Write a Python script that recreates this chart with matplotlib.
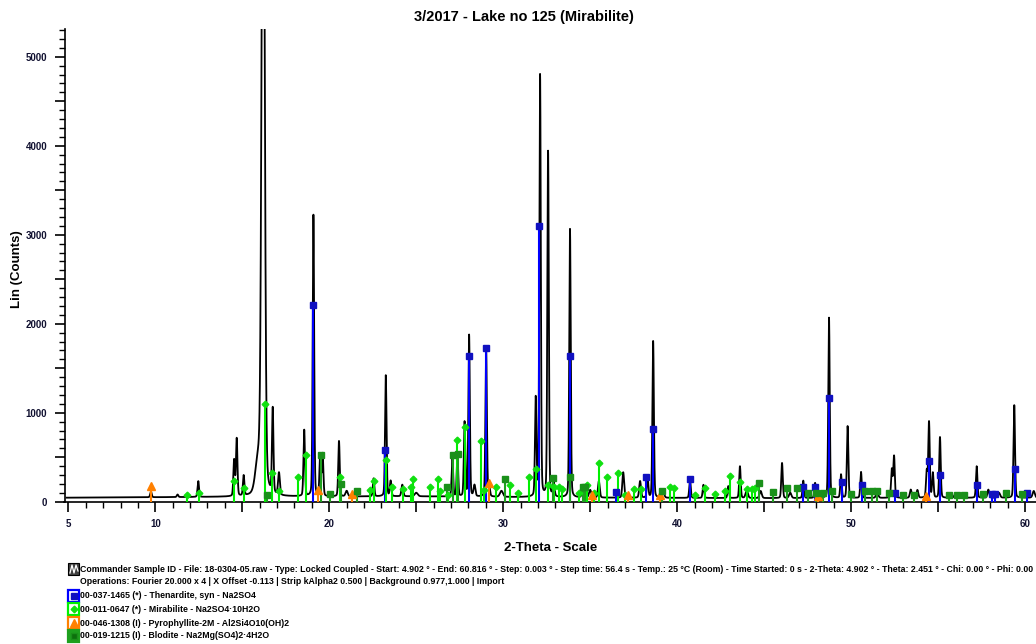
import numpy as np
import matplotlib
matplotlib.use("Agg")
import matplotlib.pyplot as plt
from matplotlib import font_manager
from matplotlib.patches import Rectangle
from matplotlib.lines import Line2D
from matplotlib.ticker import MultipleLocator, FixedLocator

# ---------------- data ----------------
TITLE = "3/2017 - Lake no 125 (Mirabilite)"
X_LABEL = "2-Theta - Scale"
Y_LABEL = "Lin (Counts)"

# measured pattern: peak positions (2-theta), apex counts, fwhm (deg)
peak_pos = [9.75, 11.28, 12.47, 14.53, 14.68, 15.08, 15.9, 16.2, 16.75, 17.11,
            18.56, 19.09, 19.48, 19.62, 20.56, 21.0, 22.55, 23.25, 23.53, 24.2,
            25.0, 27.08, 27.37, 27.78, 28.04, 28.35, 29.02, 29.2, 29.9, 31.87,
            32.12, 32.58, 32.9, 33.84, 34.6, 35.0, 35.5, 36.9, 37.87, 38.3,
            38.62, 39.2, 40.74, 41.51, 42.94, 43.61, 44.0, 44.8, 46.03, 46.5,
            47.25, 47.93, 48.73, 49.42, 49.8, 50.57, 51.5, 52.34, 52.47, 53.43,
            53.81, 54.35, 54.48, 54.7, 55.11, 56.0, 57.22, 57.89, 58.5, 59.38,
            60.5]
peak_cts = [115, 80, 230, 460, 700, 280, 400, 9000, 1005, 305,
            800, 3220, 520, 530, 680, 120, 260, 1420, 230, 190,
            100, 495, 520, 890, 1870, 180, 1720, 150, 120, 1150,
            4790, 3930, 200, 3063, 150, 130, 230, 330, 230, 280,
            1805, 100, 250, 190, 175, 398, 130, 120, 435, 100,
            236, 210, 2068, 304, 848, 334, 100, 360, 510, 135,
            130, 340, 893, 320, 725, 90, 398, 135, 100, 1085,
            120]
peak_fwhm = [0.10, 0.10, 0.10, 0.10, 0.10, 0.10, 0.35, 0.20, 0.10, 0.12,
             0.10, 0.10, 0.10, 0.10, 0.10, 0.15, 0.10, 0.10, 0.10, 0.12,
             0.20, 0.10, 0.10, 0.10, 0.10, 0.12, 0.10, 0.10, 0.20, 0.10,
             0.10, 0.10, 0.12, 0.10, 0.15, 0.15, 0.12, 0.12, 0.12, 0.10,
             0.10, 0.15, 0.10, 0.10, 0.10, 0.10, 0.15, 0.15, 0.10, 0.15,
             0.10, 0.10, 0.10, 0.10, 0.10, 0.10, 0.15, 0.10, 0.10, 0.12,
             0.12, 0.10, 0.10, 0.10, 0.10, 0.15, 0.10, 0.12, 0.15, 0.10,
             0.15]
base_pos = [4.902, 15.0, 25.0, 35.0, 45.0, 60.816]
base_cts = [45, 55, 60, 45, 40, 45]

# reference patterns (stick position, stick height)
thenardite_pos = [19.07, 23.21, 28.04, 29.01, 32.08, 33.84, 36.5, 38.2, 38.62,
                  40.74, 47.25, 47.93, 48.75, 49.45, 50.6, 52.5, 54.5, 55.13,
                  57.25, 58.1, 58.3, 59.4, 60.1]
thenardite_cts = [2210, 578, 1640, 1730, 3100, 1640, 110, 278, 822,
                  255, 165, 166, 1160, 218, 184, 100, 462, 304,
                  184, 90, 90, 368, 95]

mirabilite_pos = [11.8, 12.5, 14.5, 15.1, 16.3, 16.71, 17.1, 18.19, 18.67, 20.6,
                  22.35, 22.55, 23.25, 23.6, 24.25, 24.7, 24.83, 25.8, 26.23, 26.35,
                  26.85, 27.37, 27.82, 28.73, 28.9, 29.57, 30.39, 30.85, 31.46, 31.9,
                  32.55, 32.9, 33.2, 33.4, 34.35, 34.84, 35.2, 35.53, 35.99, 36.6,
                  37.0, 37.5, 37.9, 39.59, 39.8, 41.0, 41.6, 42.2, 42.75, 43.04,
                  43.62, 44.0, 44.3, 44.45]
mirabilite_cts = [80, 100, 235, 155, 1100, 325, 115, 275, 530, 280,
                  127, 230, 473, 160, 145, 170, 250, 160, 250, 125,
                  80, 690, 840, 680, 135, 160, 190, 100, 275, 370,
                  190, 160, 170, 145, 100, 190, 100, 430, 275, 325,
                  80, 145, 145, 165, 150, 80, 150, 90, 115, 293,
                  222, 140, 140, 150]

pyrophyllite_pos = [9.75, 19.34, 21.3, 29.19, 35.1, 37.2, 39.02, 48.12, 54.3]
pyrophyllite_cts = [175, 135, 90, 210, 70, 70, 80, 60, 60]

blodite_pos = [16.4, 19.5, 20.05, 20.7, 21.6, 26.75, 27.1, 27.4, 30.12, 32.85,
               33.85, 34.57, 34.7, 39.11, 44.71, 45.53, 46.3, 46.87, 47.5, 48.0,
               48.4, 48.9, 50.0, 50.8, 51.2, 51.5, 52.2, 53.0, 53.6, 55.6,
               56.1, 56.5, 57.6, 58.9, 59.8]
blodite_cts = [70, 530, 90, 200, 125, 160, 530, 540, 255, 267,
               278, 160, 161, 116, 210, 105, 154, 154, 100, 100,
               100, 120, 90, 116, 116, 116, 100, 80, 80, 75,
               80, 80, 85, 100, 90]

legend_header = ("Commander Sample ID - File: 18-0304-05.raw - Type: Locked Coupled - Start: 4.902 \u00b0 - "
                 "End: 60.816 \u00b0 - Step: 0.003 \u00b0 - Step time: 56.4 s - Temp.: 25 \u00b0C (Room) - "
                 "Time Started: 0 s - 2-Theta: 4.902 \u00b0 - Theta: 2.451 \u00b0 - Chi: 0.00 \u00b0 - Phi: 0.00")
legend_ops = ("Operations: Fourier 20.000 x 4 | X Offset -0.113 | Strip kAlpha2 0.500 | "
              "Background 0.977,1.000 | Import")
phase_labels = ["00-037-1465 (*) - Thenardite, syn - Na2SO4",
                "00-011-0647 (*) - Mirabilite - Na2SO4\u00b710H2O",
                "00-046-1308 (I) - Pyrophyllite-2M - Al2Si4O10(OH)2",
                "00-019-1215 (I) - Blodite - Na2Mg(SO4)2\u00b74H2O"]

x_ticks_labeled = [5, 10, 20, 30, 40, 50, 60]
y_ticks_labeled = [0, 1000, 2000, 3000, 4000, 5000]

# ---------------- fonts ----------------
avail = {f.name for f in font_manager.fontManager.ttflist}
MAIN = "Liberation Sans" if "Liberation Sans" in avail else "DejaVu Sans"
NARROW = "Liberation Sans Narrow" if "Liberation Sans Narrow" in avail else MAIN
plt.rcParams["font.family"] = [MAIN, "DejaVu Sans"]

W, H, DPI = 1036, 644, 100
fig = plt.figure(figsize=(W / DPI, H / DPI), dpi=DPI)
fig.patch.set_facecolor("white")

ax_left, ax_right, ax_top, ax_bottom = 64.5, 1036, 29.3, 501.7
ax = fig.add_axes([ax_left / W, 1 - ax_bottom / H, (ax_right - ax_left) / W,
                   (ax_bottom - ax_top) / H])
ax.set_xlim(4.78, 60.63)
ax.set_ylim(0, 5308)

# ---------------- measured trace ----------------
tt = np.arange(4.902, 60.816, 0.003)
counts = np.interp(tt, base_pos, base_cts)
for p, c, f in zip(peak_pos, peak_cts, peak_fwhm):
    amp = c - np.interp(p, base_pos, base_cts)
    s = f / 2.3548
    g = f / 2.0
    counts = counts + amp * (0.8 * np.exp(-0.5 * ((tt - p) / s) ** 2)
                             + 0.2 / (1 + ((tt - p) / g) ** 2))
ax.plot(tt, counts, color="black", lw=1.3, zorder=3, clip_on=True)

# ---------------- reference sticks ----------------
phases = [
    (thenardite_pos, thenardite_cts, "#0000ff", "s", 4.2, "#1010c0"),
    (mirabilite_pos, mirabilite_cts, "#00f000", "D", 3.4, "#10e010"),
    (pyrophyllite_pos, pyrophyllite_cts, "#ff8000", "^", 5.5, "#ff8000"),
    (blodite_pos, blodite_cts, "#1ea01e", "s", 4.2, "#1a901a"),
]
for pos, cts, col, mk, ms, mc in phases:
    ax.vlines(pos, 0, cts, colors=col, lw=1.5, zorder=4)
    ax.plot(pos, cts, ls="none", marker=mk, ms=ms, color=mc, mec=mc, zorder=5)

# ---------------- axes styling ----------------
for sp in ["top", "right"]:
    ax.spines[sp].set_visible(False)
for sp in ["left", "bottom"]:
    ax.spines[sp].set_linewidth(1.2)
    ax.spines[sp].set_color("black")

ax.xaxis.set_major_locator(FixedLocator(list(range(5, 61, 5))))
ax.set_xticklabels([str(v) if v in x_ticks_labeled else "" for v in range(5, 61, 5)])
ax.xaxis.set_minor_locator(MultipleLocator(1))
ax.yaxis.set_major_locator(FixedLocator(list(range(0, 5301, 500))))
ax.set_yticklabels([str(v) if v in y_ticks_labeled else "" for v in range(0, 5301, 500)])
ax.yaxis.set_minor_locator(MultipleLocator(100))
ax.tick_params(axis="both", which="major", length=7.5, width=1.2, direction="out",
               labelsize=7, colors="black")
ax.tick_params(axis="both", which="minor", length=4, width=1.0, direction="out")
ax.tick_params(axis="y", which="major", pad=5)
ax.tick_params(axis="x", which="major", pad=5)
for lab in ax.get_xticklabels() + ax.get_yticklabels():
    lab.set_fontweight("bold")
    lab.set_color("#101030")

def fx(px):
    return px / W

def fy(py):
    return 1 - py / H

fig.text(fx(524), fy(17), TITLE, ha="center", va="center", fontsize=10.5,
         fontweight="bold")
fig.text(fx(17), fy(269), Y_LABEL, ha="center", va="center", rotation=90,
         fontsize=9.5, fontweight="bold")
fig.text(fx(551), fy(548), X_LABEL, ha="center", va="center", fontsize=9.5,
         fontweight="bold")

# ---------------- legend block ----------------
LFS = 6.3
row_y = [569, 582, 596, 609, 623, 636]
fig.text(fx(80), fy(row_y[0]), legend_header, ha="left", va="center",
         fontsize=LFS, fontweight="bold", family=[NARROW, "DejaVu Sans"])
fig.text(fx(80), fy(row_y[1]), legend_ops, ha="left", va="center",
         fontsize=LFS, fontweight="bold", family=[NARROW, "DejaVu Sans"])

# header icon
ix0, iy = 68, row_y[0]
fig.add_artist(Rectangle((fx(ix0), fy(iy + 6)), 11 / W, 12 / H, transform=fig.transFigure,
                         facecolor="#404040", edgecolor="black", lw=0.8))
fig.add_artist(Line2D([fx(ix0 + 2), fx(ix0 + 4), fx(ix0 + 6), fx(ix0 + 8), fx(ix0 + 10)],
                      [fy(iy + 4), fy(iy - 4), fy(iy + 4), fy(iy - 4), fy(iy + 2)],
                      transform=fig.transFigure, color="white", lw=0.9))

for k, (pos, cts, col, mk, ms, mc) in enumerate(phases):
    yy = row_y[2 + k]
    face = "white" if k < 3 else col
    fig.add_artist(Rectangle((fx(68), fy(yy + 6)), 11 / W, 12 / H, transform=fig.transFigure,
                             facecolor=face, edgecolor=col, lw=1.6))
    fig.add_artist(Line2D([fx(73.5)], [fy(yy)], transform=fig.transFigure, ls="none",
                          marker=mk, ms=ms, color=mc if k < 3 else "#0d700d", mec=mc))
    fig.text(fx(80), fy(yy), phase_labels[k], ha="left", va="center", fontsize=LFS,
             fontweight="bold", family=[NARROW, "DejaVu Sans"])

fig.savefig("out.png", dpi=DPI, facecolor="white")
